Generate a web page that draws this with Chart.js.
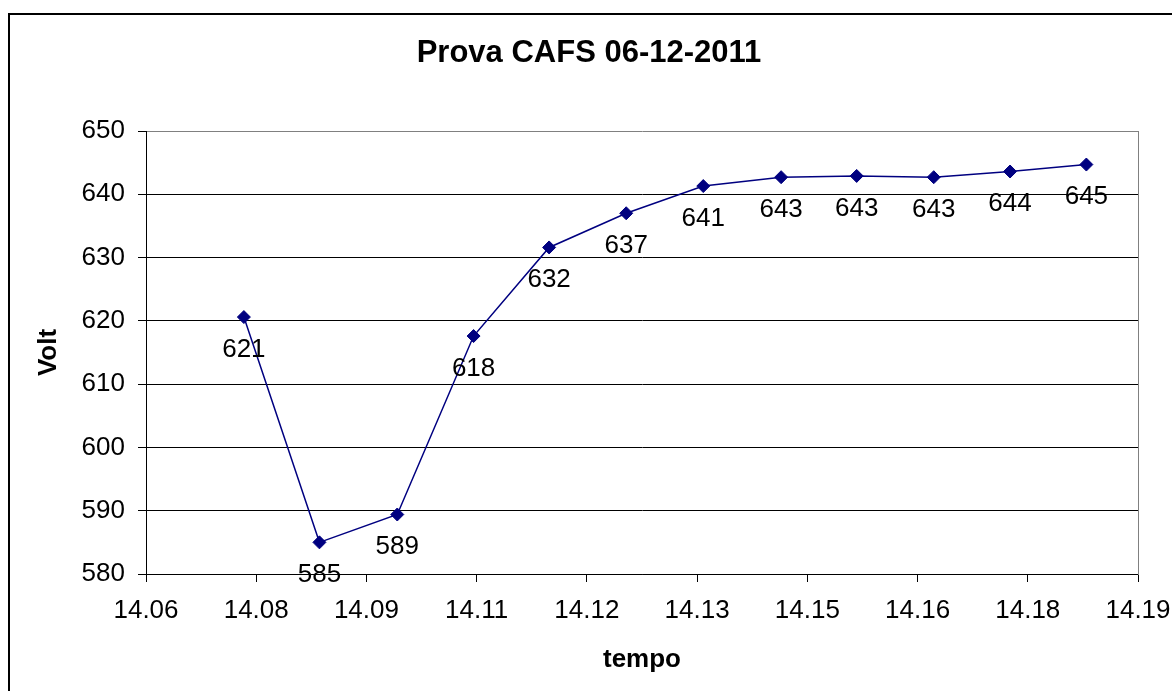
<!DOCTYPE html>
<html>
<head>
<meta charset="utf-8">
<title>Prova CAFS 06-12-2011</title>
<script src="https://cdn.jsdelivr.net/npm/chart.js@4/dist/chart.umd.min.js"></script>
<style>
  html, body { margin: 0; padding: 0; background: #fff; }
  canvas { display: block; }
</style>
</head>
<body>
<canvas id="chart" width="1172" height="691"></canvas>
<script>
// tempo (x) and Volt (y)
const tempo = [14.0757, 14.0855, 14.0956, 14.1055, 14.1153, 14.1253, 14.1353, 14.1454, 14.1552, 14.1652, 14.1751, 14.1850];
const volt = [620.6, 585.0, 589.4, 617.6, 631.6, 637.0, 641.3, 642.7, 642.9, 642.7, 643.6, 644.7];

// axis ranges
const xMin = 14.063;
const xMax = 14.1917;
const xStep = 0.0143;
const yMin = 580;
const yMax = 650;
const yStep = 10;

const FONT = "'Liberation Sans', Arial, sans-serif";
const NAVY = '#000080';

// white page + the thick frame around the whole chart
const framePlugin = {
  id: 'frame',
  beforeDraw(chart) {
    const ctx = chart.ctx;
    ctx.save();
    ctx.fillStyle = '#fff';
    ctx.fillRect(0, 0, chart.width, chart.height);
    ctx.strokeStyle = '#000';
    ctx.lineWidth = 2;
    ctx.strokeRect(9, 14, chart.width + 20, chart.height + 20);
    ctx.restore();
  }
};

// value labels under every point
const valueLabels = {
  id: 'valueLabels',
  afterDatasetsDraw(chart) {
    const ctx = chart.ctx;
    ctx.save();
    ctx.font = '26px ' + FONT;
    ctx.fillStyle = '#000';
    ctx.textAlign = 'center';
    ctx.textBaseline = 'middle';
    chart.getDatasetMeta(0).data.forEach((pt, i) => {
      ctx.fillText(String(Math.round(volt[i])), pt.x, pt.y + 32.5);
    });
    ctx.restore();
  }
};

const points = tempo.map((t, i) => ({ x: t, y: volt[i] }));

new Chart(document.getElementById('chart'), {
  type: 'line',
  data: {
    datasets: [{
      data: points,
      borderColor: NAVY,
      borderWidth: 1.5,
      tension: 0,
      pointStyle: 'rectRot',
      pointRadius: 6.5,
      pointHoverRadius: 6.5,
      pointBackgroundColor: NAVY,
      pointBorderColor: NAVY,
      pointBorderWidth: 1,
      clip: false
    }]
  },
  options: {
    responsive: false,
    animation: false,
    devicePixelRatio: 1,
    layout: { padding: { left: 6, right: 0, top: 0, bottom: 0 } },
    plugins: {
      legend: { display: false },
      tooltip: { enabled: false },
      title: {
        display: true,
        text: 'Prova CAFS 06-12-2011',
        color: '#000',
        font: { family: FONT, size: 31, weight: 'bold' },
        padding: { top: 35.2, bottom: 58.6 }
      }
    },
    scales: {
      x: {
        type: 'linear',
        position: 'bottom',
        min: xMin,
        max: xMax,
        afterFit: s => {
          s.height = 117;
          // end labels may hang over the plot edges, as in the original
          s.paddingLeft = 0;
          s.paddingRight = 0;
        },
        ticks: {
          stepSize: xStep,
          autoSkip: false,
          maxRotation: 0,
          color: '#000',
          padding: 13,
          font: { family: FONT, size: 26 },
          callback: v => Number(v).toFixed(2)
        },
        grid: { drawOnChartArea: false, drawTicks: true, tickLength: 8, color: '#000' },
        border: { color: '#000', width: 1 },
        title: {
          display: true,
          text: 'tempo',
          color: '#000',
          font: { family: FONT, size: 26, weight: 'bold' },
          padding: { top: 0, bottom: 16 }
        }
      },
      y: {
        position: 'left',
        min: yMin,
        max: yMax,
        afterFit: s => { s.width = 140; },
        ticks: {
          stepSize: yStep,
          color: '#000',
          padding: 13,
          font: { family: FONT, size: 26 }
        },
        grid: {
          color: c => (c.tick && c.tick.value === yMax ? '#808080' : '#000'),
          tickColor: '#000',
          tickLength: 8
        },
        border: { color: '#000', width: 1 },
        title: {
          display: true,
          text: 'Volt',
          color: '#000',
          font: { family: FONT, size: 26, weight: 'bold' },
          padding: { top: 27.4, bottom: 0 }
        }
      },
      // only there to give the plot area its grey right edge
      y2: {
        position: 'right',
        afterFit: s => { s.width = 34; },
        ticks: { display: false },
        grid: { display: false },
        border: { color: '#808080', width: 1 }
      }
    }
  },
  plugins: [framePlugin, valueLabels]
});
</script>
</body>
</html>
